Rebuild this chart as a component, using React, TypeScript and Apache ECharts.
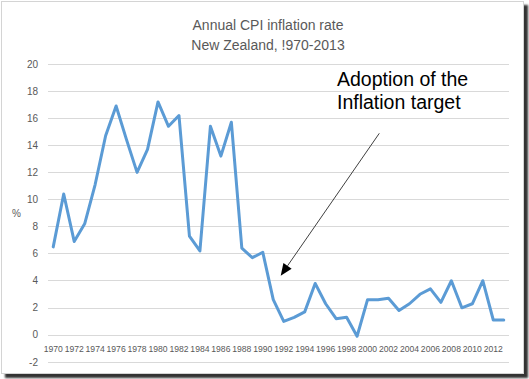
import React, { useEffect, useRef } from "react";
import * as echarts from "echarts";

const years: string[] = [
  "1970", "1971", "1972", "1973", "1974", "1975", "1976", "1977", "1978", "1979",
  "1980", "1981", "1982", "1983", "1984", "1985", "1986", "1987", "1988", "1989",
  "1990", "1991", "1992", "1993", "1994", "1995", "1996", "1997", "1998", "1999",
  "2000", "2001", "2002", "2003", "2004", "2005", "2006", "2007", "2008", "2009",
  "2010", "2011", "2012", "2013",
];

const cpiInflation: number[] = [
  6.5, 10.4, 6.9, 8.2, 11.1, 14.7, 16.9, 14.4, 12.0, 13.7,
  17.2, 15.4, 16.2, 7.3, 6.2, 15.4, 13.2, 15.7, 6.4, 5.7,
  6.1, 2.6, 1.0, 1.3, 1.7, 3.8, 2.3, 1.2, 1.3, -0.1,
  2.6, 2.6, 2.7, 1.8, 2.3, 3.0, 3.4, 2.4, 4.0, 2.0,
  2.3, 4.0, 1.1, 1.1,
];

const titleLines: string[] = ["Annual CPI inflation rate", "New Zealand, !970-2013"];
const annotationLines: string[] = ["Adoption of the", "Inflation target"];
const yAxisName = "%";

export default function App() {
  const ref = useRef<HTMLDivElement>(null);

  useEffect(() => {
    if (!ref.current) return;
    const chart = echarts.init(ref.current, undefined, { renderer: "svg" });

    // arrow geometry (annotation)
    const start = [379.3, 133.3];
    const tip = [280.7, 275.7];
    const dx = tip[0] - start[0];
    const dy = tip[1] - start[1];
    const len = Math.sqrt(dx * dx + dy * dy);
    const ux = dx / len;
    const uy = dy / len;
    const headLen = 12;
    const headHalf = 5;
    const bx = tip[0] - ux * headLen;
    const by = tip[1] - uy * headLen;
    const nx = -uy;
    const ny = ux;

    chart.setOption({
      animation: false,
      title: {
        text: titleLines.join("\n"),
        left: 263,
        top: 10,
        textAlign: "center",
        textStyle: {
          fontFamily: "Liberation Sans, Arial, sans-serif",
          fontSize: 14,
          fontWeight: "normal",
          color: "#595959",
          lineHeight: 20,
        },
      },
      grid: { left: 48, right: 20, top: 64, bottom: 17, containLabel: false },
      xAxis: {
        type: "category",
        data: years,
        boundaryGap: true,
        offset: -27,
        axisLine: { show: false, onZero: false },
        axisTick: { show: false },
        axisLabel: {
          interval: 1,
          margin: 9,
          fontFamily: "Liberation Sans, Arial, sans-serif",
          fontSize: 8.6,
          color: "#595959",
        },
        splitLine: { show: false },
      },
      yAxis: {
        type: "value",
        min: -2,
        max: 20,
        interval: 2,
        name: yAxisName,
        nameLocation: "middle",
        nameRotate: 0,
        nameGap: 25,
        nameTextStyle: {
          fontFamily: "Liberation Sans, Arial, sans-serif",
          fontSize: 10,
          color: "#595959",
        },
        axisLine: { show: false },
        axisTick: { show: false },
        axisLabel: {
          margin: 10,
          fontFamily: "Liberation Sans, Arial, sans-serif",
          fontSize: 10,
          color: "#595959",
        },
        splitLine: { show: true, lineStyle: { color: "#d9d9d9", width: 1 } },
      },
      series: [
        {
          type: "line",
          data: cpiInflation,
          symbol: "none",
          smooth: false,
          lineStyle: { color: "#5B9BD5", width: 3, join: "round", cap: "round" },
          z: 3,
        },
      ],
      graphic: [
        {
          type: "text",
          x: 337,
          y: 68,
          z: 10,
          style: {
            text: annotationLines.join("\n"),
            fontFamily: "Liberation Sans, Arial, sans-serif",
            fontSize: 19.5,
            lineHeight: 22.5,
            fill: "#000000",
            textAlign: "left",
            textVerticalAlign: "top",
          },
        },
        {
          type: "line",
          z: 10,
          shape: { x1: start[0], y1: start[1], x2: bx, y2: by },
          style: { stroke: "#404040", lineWidth: 1 },
        },
        {
          type: "polygon",
          z: 10,
          shape: {
            points: [
              [tip[0], tip[1]],
              [bx + nx * headHalf, by + ny * headHalf],
              [bx - nx * headHalf, by - ny * headHalf],
            ],
          },
          style: { fill: "#000000" },
        },
      ],
    });

    return () => {
      chart.dispose();
    };
  }, []);

  return (
    <div style={{ position: "absolute", left: 0, top: 0, width: 529, height: 379, background: "#ffffff", overflow: "hidden" }}>
      <div
        style={{
          position: "absolute",
          left: 1,
          top: 1,
          width: 521,
          height: 371,
          border: "1px solid #d4d4d4",
          boxShadow: "4px 4px 2px #333333",
          background: "#ffffff",
        }}
      />
      <div ref={ref} style={{ position: "absolute", left: 0, top: 0, width: 529, height: 379 }} />
    </div>
  );
}
